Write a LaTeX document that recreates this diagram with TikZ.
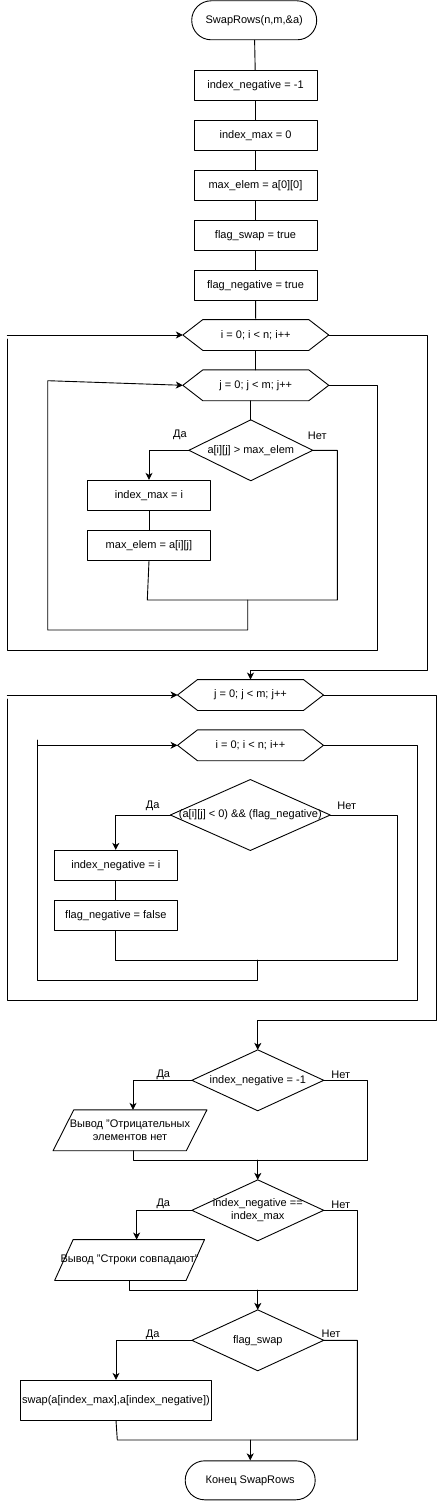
\documentclass[tikz,border=0pt]{standalone}
\usepackage{fontspec}
\setmainfont{Liberation Sans}
\usetikzlibrary{arrows.meta,calc}

\newcommand{\hexframe}[1]{\draw ([xshift=20pt]#1.north west) -- ([xshift=-20pt]#1.north east) -- (#1.east) -- ([xshift=-20pt]#1.south east) -- ([xshift=20pt]#1.south west) -- (#1.west) -- cycle;}
\newcommand{\diamframe}[1]{\draw (#1.north) -- (#1.east) -- (#1.south) -- (#1.west) -- cycle;}
\newcommand{\paraframe}[2]{\draw ([xshift=#2]#1.north west) -- (#1.north east) -- ([xshift=-#2]#1.south east) -- (#1.south west) -- cycle;}

\begin{document}
\begin{tikzpicture}[x=1pt,y=-1pt,line cap=round,line join=round,line width=0.9pt,
  >={Stealth[length=7pt,width=7pt,inset=2pt]},
  every node/.style={font=\fontsize{11}{13}\selectfont,inner sep=0pt,align=center},
  proc/.style={draw,minimum width=123,minimum height=30},
  term/.style={draw,rounded corners=19.5pt,minimum width=#1,minimum height=39},
  cyc/.style={minimum width=145,minimum height=30},
  cond/.style={minimum width=#1,minimum height=60},
  io/.style={minimum width=#1,minimum height=40}]
\useasboundingbox (0,0) rectangle (446,1501);

\node[term=125] (start) at (254.2,20.3) {SwapRows(n,m,\&a)};
\node[proc] (neg) at (255.5,85.3) {index\_negative = -1};
\node[proc] (imx) at (255.5,135.3) {index\_max = 0};
\node[proc] (mel) at (255.5,185.3) {max\_elem = a[0][0]};
\node[proc] (fsw) at (255.5,235.3) {flag\_swap = true};
\node[proc] (fng) at (255.5,285.3) {flag\_negative = true};
\node[cyc] (li) at (255.8,335) {i = 0; i < n; i++};
\node[cyc] (lj) at (255.8,385.3) {j = 0; j < m; j++};
\node[cond=123] (cmp) at (250.8,450.3) {a[i][j] > max\_elem};
\node[proc] (setimx) at (149,495.3) {index\_max = i};
\node[proc] (setmel) at (149,545.3) {max\_elem = a[i][j]};
\node (ya1) at (180,435.3) {Да};
\node (no1) at (317.3,435.3) {Нет};

\node[cyc] (lj2) at (250.5,695) {j = 0; j < m; j++};
\node[cyc] (li2) at (250.5,745.3) {i = 0; i < n; i++};
\node[cond=159,minimum height=70] (chk) at (250.3,815) {(a[i][j] < 0) \&\& (flag\_negative)};
\node[proc] (setneg) at (115.8,865.3) {index\_negative = i};
\node[proc] (clrfl) at (115.8,915.3) {flag\_negative = false};
\node (ya2) at (152.7,805.7) {Да};
\node (no2) at (346.7,805.7) {Нет};

\node[cond=131] (nochk) at (257.8,1080.3) {index\_negative = -1};
\node[io=153] (out1) at (130,1130.3) {Вывод "Отрицательных\\элементов нет};
\node[cond=131] (eqchk) at (257.8,1210.3) {index\_negative ==\\index\_max};
\node[io=149] (out2) at (129.6,1260) {Вывод "Строки совпадают"};
\node[cond=131] (swchk) at (257.8,1340.3) {flag\_swap};
\node[proc,minimum width=190.7,minimum height=39.7] (swp) at (116,1400.2) {swap(a[index\_max],a[index\_negative])};
\node[term=130] (stop) at (250.2,1480.3) {Конец SwapRows};
\node (ya3) at (163.3,1075) {Да};
\node (no3) at (340.7,1075) {Нет};
\node (ya4) at (163.3,1204) {Да};
\node (no4) at (340.7,1205) {Нет};
\node (ya5) at (152.7,1334.3) {Да};
\node (no5) at (331,1334) {Нет};

\hexframe{li} \hexframe{lj} \hexframe{lj2} \hexframe{li2}
\diamframe{cmp} \diamframe{chk} \diamframe{nochk} \diamframe{eqchk} \diamframe{swchk}
\paraframe{out1}{20.7pt} \paraframe{out2}{18.5pt}

\coordinate (j1) at (337.3,600);
\coordinate (j1a) at (147.3,600);
\coordinate (j1m) at (247.7,600);
\coordinate (r2) at (47.7,630);
\coordinate (r2e) at (47.7,380.7);
\coordinate (r1) at (377,650);
\coordinate (r1a) at (7.3,650);
\coordinate (r1b) at (7.3,339);
\coordinate (r1c) at (7.3,335);
\coordinate (e1) at (427,670);

\draw (start) -- (neg);
\draw (neg) -- (imx);
\draw (imx) -- (mel);
\draw (mel) -- (fsw);
\draw (fsw) -- (fng);
\draw (fng) -- (li);
\draw (li) -- (lj);
\draw (cmp.north |- lj.south) -- (cmp.north);
\draw[->] (cmp.west) -| (setimx.north);
\draw (setimx) -- (setmel);
\draw (cmp.east) -| (j1) -- (j1a) -- (setmel.south);
\draw[->] (j1m) |- (r2) -- (r2e) -- (lj.west);
\draw (lj.east) -| (r1) -- (r1a) -- (r1b);
\draw[->] (r1c) -- (li.west);
\draw[->] (li.east) -| (e1) -| (lj2.north);

\coordinate (j2) at (397.3,960);
\coordinate (j2m) at (257.7,960);
\coordinate (r4) at (37.7,980);
\coordinate (r4e) at (37.7,740);
\coordinate (r4s) at (37.7,745.3);
\coordinate (r3) at (417.3,1000);
\coordinate (r3a) at (7.3,1000);
\coordinate (r3b) at (7.3,699);
\coordinate (r3c) at (7.3,695);
\coordinate (e2) at (436.7,1020.7);

\draw[->] (chk.west) -| (setneg.north);
\draw (setneg) -- (clrfl);
\draw (chk.east) -| (j2) -- (clrfl.south |- j2) -- (clrfl.south);
\draw (j2m) |- (r4) -- (r4e);
\draw[->] (r4s) -- (li2.west);
\draw (li2.east) -| (r3) -- (r3a) -- (r3b);
\draw[->] (r3c) -- (lj2.west);
\draw[->] (lj2.east) -| (e2) -| (nochk.north);

\coordinate (j3) at (367.3,1160);
\coordinate (j3a) at (133,1160);
\coordinate (j4) at (357.3,1290);
\coordinate (j5) at (357.3,1440);
\coordinate (j5a) at (117.3,1440);

\draw[->] (nochk.west) -| ([xshift=3pt]out1.north);
\draw (nochk.east) -| (j3) -- (j3a) -- ([xshift=3pt]out1.south);
\draw[->] (eqchk.north |- j3) -- (eqchk.north);
\draw[->] (eqchk.west) -| ([xshift=7pt]out2.north);
\draw (eqchk.east) -| (j4) -- (out2.south |- j4) -- (out2.south);
\draw[->] (swchk.north |- j4) -- (swchk.north);
\draw[->] (swchk.west) -| (swp.north);
\draw (swchk.east) -| (j5) -- (j5a) -- (swp.south);
\draw[->] (stop.north |- j5) -- (stop.north);
\end{tikzpicture}
\end{document}
